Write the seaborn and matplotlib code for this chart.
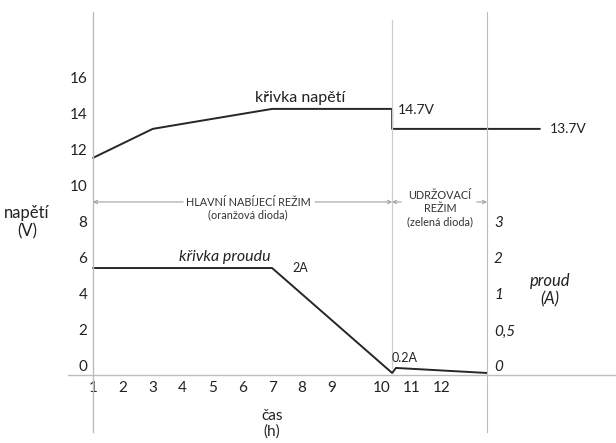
import matplotlib
matplotlib.use('Agg')
import matplotlib.pyplot as plt
import seaborn as sns
import pandas as pd

# data (time in h, voltage in V; current drawn on the voltage scale)
napeti_cas = [1, 3, 4, 7, 11.02, 11.02, 15.97]
napeti_hodnota = [11.56, 13.17, 13.45, 14.28, 14.28, 13.17, 13.17]
proud_cas = [1, 7, 11.02, 11.15, 14.2]
proud_hodnota = [5.44, 5.44, -0.39, -0.11, -0.39]

cas_pozice = [1, 2, 3, 4, 5, 6, 7, 8, 9, 10.68, 11.69, 12.69]
cas_popisky = ['1', '2', '3', '4', '5', '6', '7', '8', '9', '10', '11', '12']
napeti_ticky = [0, 2, 4, 6, 8, 10, 12, 14, 16]
proud_pozice = [8, 6, 4, 2, 0]
proud_popisky = ['3', '2', '1', '0,5', '0']

konec_nabijeni = 11.02
prava_osa = 14.2

sns.set_style('white')
plt.rcParams['font.family'] = ['Lato', 'DejaVu Sans']

napeti_df = pd.DataFrame({'cas': napeti_cas, 'napeti': napeti_hodnota})
proud_df = pd.DataFrame({'cas': proud_cas, 'proud': proud_hodnota})

fig = plt.figure(figsize=(6.16, 4.43), dpi=100)
ax = fig.add_axes([0, 0, 1, 1])
ax.set_xlim(-2.116, 18.52)
ax.set_ylim(-4.28, 20.33)

osa_barva = '#bdbdbd'
cara_barva = '#262626'

sns.lineplot(data=napeti_df, x='cas', y='napeti', ax=ax, color=cara_barva, lw=1.4,
             sort=False, estimator=None)
sns.lineplot(data=proud_df, x='cas', y='proud', ax=ax, color=cara_barva, lw=1.4,
             sort=False, estimator=None)

# axes like the drawing: left spine at t=1, bottom at -0.5
for s in ['top', 'right']:
    ax.spines[s].set_visible(False)
ax.spines['left'].set_position(('data', 1))
ax.spines['left'].set_bounds(-3.67, 19.67)
ax.spines['bottom'].set_position(('data', -0.5))
ax.spines['bottom'].set_bounds(0.16, 18.52)
for s in ['left', 'bottom']:
    ax.spines[s].set_color(osa_barva)
    ax.spines[s].set_linewidth(1.0)

ax.set_xticks(cas_pozice)
ax.set_xticklabels(cas_popisky)
ax.set_yticks(napeti_ticky)
ax.tick_params(axis='x', length=0, pad=4, labelsize=11, colors='#222222')
ax.tick_params(axis='y', length=0, pad=4, labelsize=11, colors='#222222')
ax.set_xlabel('')
ax.set_ylabel('')

# right (current) axis
ax2 = ax.twinx()
ax2.set_ylim(ax.get_ylim())
for s in ['top', 'left', 'bottom']:
    ax2.spines[s].set_visible(False)
ax2.spines['right'].set_position(('data', prava_osa))
ax2.spines['right'].set_bounds(-3.67, 19.67)
ax2.spines['right'].set_color(osa_barva)
ax2.set_yticks(proud_pozice)
ax2.set_yticklabels(proud_popisky, fontstyle='italic')
ax2.tick_params(axis='y', length=0, pad=5, labelsize=11, colors='#222222')

# boundary between modes
ax.plot([konec_nabijeni, konec_nabijeni], [-0.1, 19.2], color='#cccccc', lw=0.9)

# mode arrows
sipka = dict(arrowstyle='->', color='#a0a0a0', lw=0.8, shrinkA=0, shrinkB=0, mutation_scale=6)
ax.annotate('', xy=(1, 9.11), xytext=(4.02, 9.11), arrowprops=sipka)
ax.annotate('', xy=(konec_nabijeni, 9.11), xytext=(8.44, 9.11), arrowprops=sipka)
ax.annotate('', xy=(konec_nabijeni, 9.11), xytext=(11.32, 9.11), arrowprops=sipka)
ax.annotate('', xy=(prava_osa, 9.11), xytext=(13.86, 9.11), arrowprops=sipka)

ax.text(6.19, 8.75, 'HLAVNÍ NABÍJECÍ REŽIM\n(oranžová dioda)', ha='center', va='center',
        fontsize=7.8, color='#333333', linespacing=1.15)
ax.text(12.62, 8.72, 'UDRŽOVACÍ\nREŽIM\n(zelená dioda)', ha='center', va='center',
        fontsize=7.8, color='#333333', linespacing=1.25)

ax.text(7.93, 14.9, 'křivka napětí', ha='center', va='center', fontsize=11.5, color='#222222')
ax.text(11.22, 14.22, '14.7V', ha='left', va='center', fontsize=10, color='#222222')
ax.text(16.31, 13.17, '13.7V', ha='left', va='center', fontsize=10, color='#222222')
ax.text(5.42, 6.06, 'křivka proudu', ha='center', va='center', fontsize=11.5,
        fontstyle='italic', color='#222222')
ax.text(7.93, 5.44, '2A', ha='center', va='center', fontsize=9, color='#222222')
ax.text(11.45, 0.44, '0.2A', ha='center', va='center', fontsize=9, color='#222222')

ax.text(-1.21, 8.0, 'napětí\n(V)', ha='center', va='center', fontsize=12, color='#222222')
ax.text(16.31, 4.22, 'proud\n(A)', ha='center', va='center', fontsize=12,
        fontstyle='italic', color='#222222')
ax.text(7.0, -3.22, 'čas\n(h)', ha='center', va='center', fontsize=11, color='#222222',
        linespacing=1.05)

fig.savefig('out.png', dpi=100)
